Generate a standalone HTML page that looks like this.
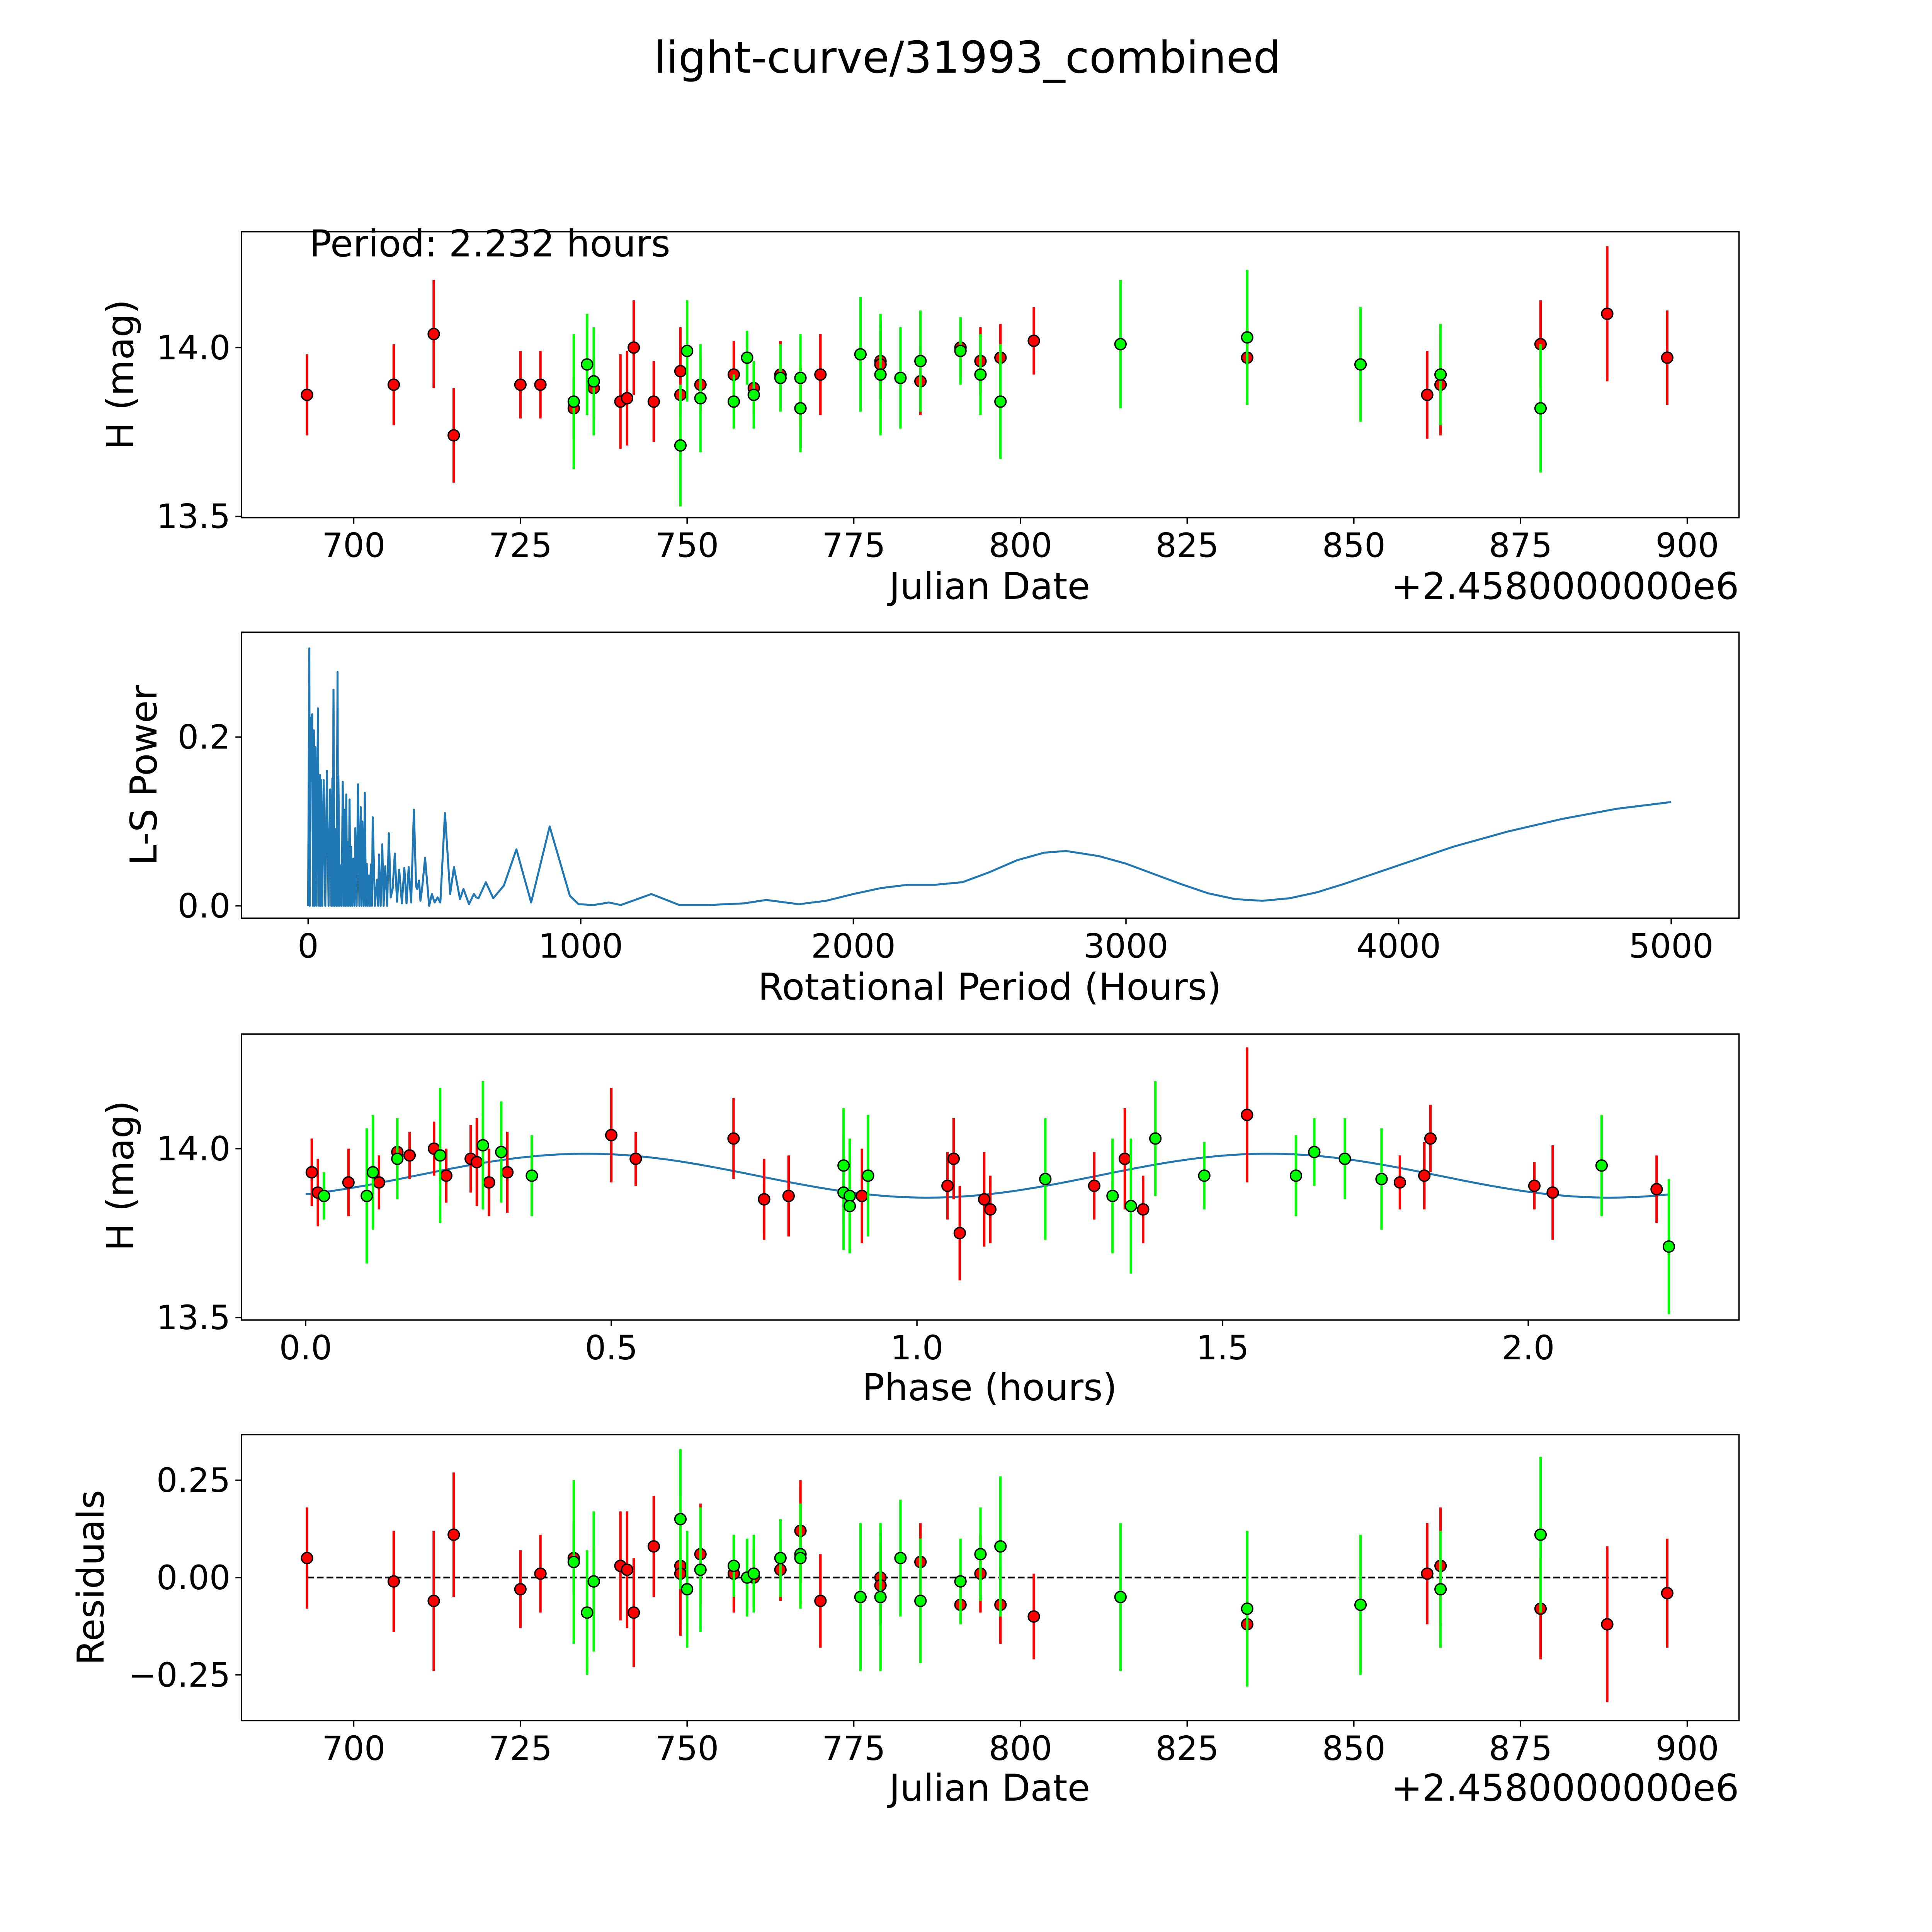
<!DOCTYPE html>
<html><head><meta charset="utf-8"><style>
html,body{margin:0;padding:0;background:#fff;overflow:hidden;width:5400px;height:5400px;}
svg{display:block;font-family:"DejaVu Sans","Liberation Sans",sans-serif;}
</style></head><body>
<svg id="fig" xmlns="http://www.w3.org/2000/svg" width="5400" height="5400" viewBox="0 0 1693 1693">
<rect width="1693" height="1693" fill="#fff"/>
<text x="785" y="59" font-size="35.5" text-anchor="middle">light-curve/31993_combined</text>
</svg>
<script>
// ===== Panel 1 / 4 data: Julian date (offset from 2458000) =====
const redJD   = [693,706,712,715,725,728,733,736,740,741,742,745,749,749,752,757,760,764,767,770,779,779,785,791,794,797,802,834,861,863,878,888,897];
const redMag  = [13.86,13.89,14.04,13.74,13.89,13.89,13.82,13.88,13.84,13.85,14.0,13.84,13.86,13.93,13.89,13.92,13.88,13.92,13.82,13.92,13.96,13.95,13.9,14.0,13.96,13.97,14.02,13.97,13.86,13.89,14.01,14.1,13.97];
const redErr  = [0.12,0.12,0.16,0.14,0.1,0.1,0.09,0.09,0.14,0.14,0.14,0.12,0.14,0.13,0.08,0.1,0.08,0.1,0.12,0.12,0.12,0.1,0.1,0.09,0.1,0.1,0.1,0.1,0.13,0.15,0.13,0.2,0.14];
const redRes  = [0.05,-0.01,-0.06,0.11,-0.03,0.01,0.05,-0.01,0.03,0.02,-0.09,0.08,0.03,0.01,0.06,0.01,0.0,0.02,0.12,-0.06,0.0,-0.02,0.04,-0.07,0.01,-0.07,-0.1,-0.12,0.01,0.03,-0.08,-0.12,-0.04];
const redResErr = [0.13,0.13,0.18,0.16,0.1,0.1,0.09,0.09,0.14,0.15,0.14,0.13,0.18,0.13,0.13,0.1,0.08,0.08,0.13,0.12,0.12,0.1,0.1,0.05,0.1,0.1,0.11,0.1,0.13,0.15,0.13,0.2,0.14];
const grnJD   = [733,735,736,749,750,752,757,759,760,764,767,767,776,779,782,785,791,794,797,815,834,851,863,878];
const grnMag  = [13.84,13.95,13.90,13.71,13.99,13.85,13.84,13.97,13.86,13.91,13.82,13.91,13.98,13.92,13.91,13.96,13.99,13.92,13.84,14.01,14.03,13.95,13.92,13.82];
const grnErr  = [0.2,0.15,0.16,0.18,0.15,0.16,0.08,0.08,0.1,0.1,0.13,0.13,0.17,0.18,0.15,0.15,0.1,0.12,0.17,0.19,0.2,0.17,0.15,0.19];
const grnRes  = [0.04,-0.09,-0.01,0.15,-0.03,0.02,0.03,0.0,0.01,0.05,0.06,0.05,-0.05,-0.05,0.05,-0.06,-0.01,0.06,0.08,-0.05,-0.08,-0.07,-0.03,0.11];
const grnResErr = [0.21,0.16,0.18,0.18,0.15,0.16,0.08,0.1,0.1,0.1,0.13,0.13,0.19,0.19,0.15,0.16,0.11,0.12,0.18,0.19,0.2,0.18,0.15,0.2];
// ===== Panel 3 data: phase =====
const redPhase = [0.01,0.02,0.07,0.12,0.15,0.17,0.21,0.23,0.27,0.28,0.30,0.33,0.50,0.54,0.70,0.75,0.79,0.91,1.05,1.06,1.07,1.11,1.12,1.29,1.34,1.37,1.54,1.79,1.83,1.84,2.01,2.04,2.21];
const redPMag  = [13.93,13.87,13.9,13.9,13.99,13.98,14.0,13.92,13.97,13.96,13.9,13.93,14.04,13.97,14.03,13.85,13.86,13.86,13.89,13.97,13.75,13.85,13.82,13.89,13.97,13.82,14.1,13.9,13.92,14.03,13.89,13.87,13.88];
const redPErr  = [0.1,0.1,0.1,0.08,0.1,0.07,0.08,0.08,0.1,0.13,0.1,0.12,0.14,0.08,0.12,0.12,0.12,0.14,0.1,0.12,0.14,0.14,0.1,0.1,0.15,0.1,0.2,0.08,0.1,0.1,0.07,0.14,0.1];
const grnPhase = [0.03,0.10,0.11,0.15,0.22,0.29,0.32,0.37,0.88,0.88,0.89,0.89,0.92,1.21,1.32,1.35,1.39,1.47,1.62,1.65,1.70,1.76,2.12,2.23];
const grnPMag  = [13.86,13.86,13.93,13.97,13.98,14.01,13.99,13.92,13.87,13.95,13.86,13.83,13.92,13.91,13.86,13.83,14.03,13.92,13.92,13.99,13.97,13.91,13.95,13.71];
const grnPErr  = [0.07,0.2,0.17,0.12,0.2,0.19,0.15,0.12,0.17,0.17,0.17,0.13,0.18,0.18,0.17,0.2,0.17,0.1,0.12,0.1,0.12,0.15,0.15,0.2];
const fitMean = [13.92];
const fitAmp = [0.065];
const fitPeriod = [1.116];
const fitShift = [0.18];
const fitRange = [0, 2.232];
// ===== Panel 2 data: periodogram =====
const lsPeriod = [0,4.5,6,10,15,18,21,24,27,31,36,40,44,46,48,52,57,63,69,75,81,85,89,91,93,97,100,104,108,110,111,116,120,123,127,131,134,137,140,143,146,149,152,155,158,162,166,170,173,178,183,188,193,196,199,204,208,212,215,219,223,227,230,234,237,245,253,257,260,266,272,277,283,290,296,303,310,318,326,334,344,353,361,369,378,388,396,400,407,412,418,429,444,454,464,475,485,502,521,535,557,570,590,608,617,625,652,679,718,764,818,886,960,992,1047,1103,1147,1259,1362,1469,1600,1680,1800,1900,2000,2100,2200,2300,2400,2500,2600,2700,2780,2900,3000,3100,3200,3300,3400,3500,3600,3700,3800,3900,4000,4200,4400,4600,4800,5000];
const lsPower  = [0,0.305,0,0.22,0.227,0,0.208,0,0.188,0,0.234,0,0.155,0,0.149,0,0.149,0,0.16,0,0.138,0,0.151,0,0.256,0,0.091,0,0.277,0,0.154,0,0.048,0,0.147,0,0.114,0,0.132,0,0.076,0,0.126,0,0.07,0,0.056,0,0.092,0,0.144,0,0.117,0,0.1,0,0.134,0,0.05,0,0.036,0,0.049,0,0.105,0,0.031,0,0.061,0,0.073,0,0.047,0,0.086,0.01,0.02,0.062,0.005,0.043,0.003,0.045,0.003,0.046,0.004,0.114,0.023,0.02,0.03,0.006,0.02,0.057,0,0.014,0.004,0.01,0.004,0.11,0.014,0.046,0.008,0.02,0.002,0.014,0.01,0.009,0.028,0.009,0.024,0.067,0.004,0.094,0.012,0.002,0.001,0.004,0.001,0.014,0.001,0.001,0.003,0.007,0.002,0.006,0.014,0.021,0.025,0.025,0.028,0.04,0.054,0.063,0.065,0.059,0.05,0.038,0.026,0.015,0.008,0.006,0.009,0.016,0.026,0.037,0.048,0.07,0.088,0.103,0.115,0.123];
const jdTicks = [700,725,750,775,800,825,850,875,900];
const magTicks = [13.5,14.0];
const lsXTicks = [0,1000,2000,3000,4000,5000];
const lsYTicks = [0.0,0.2];
const phaseTicks = [0.0,0.5,1.0,1.5,2.0];
const resTicks = [-0.25,0.00,0.25];

const NS = 'http://www.w3.org/2000/svg';
const svg = document.getElementById('fig');
function mk(tag, attrs, parent){ const e=document.createElementNS(NS,tag); for(const k in attrs) e.setAttribute(k,attrs[k]); (parent||svg).appendChild(e); return e; }
function lin(d0,d1,r0,r1){ return v => r0+(v-d0)*(r1-r0)/(d1-d0); }

const L=196, R=1411;
const TF=27;
const jdX = lin(700,900,287,1369);
function axesBox(name){
  const g = mk('g',{});  
  return g;
}
function frame(g,top,bot){
  const r = mk('rect',{x:L,y:top,width:R-L,height:bot-top,fill:'none',stroke:'#000','stroke-width':1.1},g);
   
}
function xTicks(g,ticks,sx,bot,fmt){
  ticks.forEach(t=>{ const x=sx(t);
    mk('line',{x1:x,x2:x,y1:bot,y2:bot+5,stroke:'#000','stroke-width':1.1},g);
    const tx=mk('text',{x:x,y:bot+32,'font-size':TF,'text-anchor':'middle'},g); tx.textContent=fmt(t);
     
  });
}
function yTicks(g,ticks,sy,fmt){
  ticks.forEach(t=>{ const y=sy(t);
    mk('line',{x1:L-5,x2:L,y1:y,y2:y,stroke:'#000','stroke-width':1.1},g);
    const tx=mk('text',{x:L-9,y:y+9.5,'font-size':TF,'text-anchor':'end'},g); tx.textContent=fmt(t);
     
  });
}
function label(g,txt,x,y,rot,name,anchor,fs){
  const t=mk('text',{x:x,y:y,'font-size':fs||30,'text-anchor':anchor||'middle'},g);
  if(rot) t.setAttribute('transform','rotate(-90 '+x+' '+y+')');
  t.textContent=txt;  
}
function points(g,xs,ys,es,sx,sy,color,name){
  xs.forEach((x,i)=>{
    const px=sx(x);
    const l=mk('line',{x1:px,x2:px,y1:sy(ys[i]-es[i]),y2:sy(ys[i]+es[i]),stroke:color,'stroke-width':2},g);
     
  });
  xs.forEach((x,i)=>{
    const c=mk('circle',{cx:sx(x),cy:sy(ys[i]),r:4.5,fill:color,stroke:'#000','stroke-width':1.1},g);
     
  });
}
const RED='#ff0000', GRN='#00ff00';

// ---- Panel 1
{ const top=188,bot=420; const g=axesBox('light-curve-panel');
  const sy=lin(13.5,14.0,419,282);
  points(g,redJD,redMag,redErr,jdX,sy,RED,'red-band');
  points(g,grnJD,grnMag,grnErr,jdX,sy,GRN,'green-band');
  frame(g,top,bot);
  xTicks(g,jdTicks,jdX,bot,t=>String(t)); yTicks(g,magTicks,sy,t=>t.toFixed(1));
  label(g,'Julian Date',803,486,false,'x-axis-title');
  label(g,'+2.4580000000e6',1411,486,false,'x-offset-text','end');
  label(g,'H (mag)',108,304,true,'y-axis-title');
  label(g,'Period: 2.232 hours',251,208,false,'period-annotation','start');
}
// ---- Panel 2
{ const top=513,bot=745; const g=axesBox('periodogram-panel');
  const sx=lin(0,5000,250,1356), sy=lin(0,0.2,735,598);
  const pts=lsPeriod.map((p,i)=>sx(p).toFixed(2)+','+sy(lsPower[i]).toFixed(2)).join(' ');
  const pl=mk('polyline',{points:pts,fill:'none',stroke:'#1f77b4','stroke-width':1.6,'stroke-linejoin':'round'},g);
   
  frame(g,top,bot);
  xTicks(g,lsXTicks,sx,bot,t=>String(t)); yTicks(g,lsYTicks,sy,t=>t.toFixed(1));
  label(g,'Rotational Period (Hours)',803,811,false,'x-axis-title');
  label(g,'L-S Power',127,629,true,'y-axis-title');
}
// ---- Panel 3
{ const top=839,bot=1071; const g=axesBox('phase-panel');
  const sx=lin(0,2,248,1240), sy=lin(13.5,14.0,1069,932);
  let d=''; const n=300;
  for(let i=0;i<=n;i++){ const x=fitRange[0]+(fitRange[1]-fitRange[0])*i/n;
    const y=fitMean[0]+fitAmp[0]*Math.sin(2*Math.PI*(x-fitShift[0])/fitPeriod[0]);
    d+=(i?'L':'M')+sx(x).toFixed(2)+','+sy(y).toFixed(2); }
  const fp=mk('path',{d:d,fill:'none',stroke:'#1f77b4','stroke-width':1.6},g);
   
  points(g,redPhase,redPMag,redPErr,sx,sy,RED,'red-band');
  points(g,grnPhase,grnPMag,grnPErr,sx,sy,GRN,'green-band');
  frame(g,top,bot);
  xTicks(g,phaseTicks,sx,bot,t=>t.toFixed(1)); yTicks(g,magTicks,sy,t=>t.toFixed(1));
  label(g,'Phase (hours)',803,1136,false,'x-axis-title');
  label(g,'H (mag)',108,954,true,'y-axis-title');
}
// ---- Panel 4
{ const top=1164,bot=1396; const g=axesBox('residuals-panel');
  const sy=lin(0,0.25,1280,1201);
  const zl=mk('line',{x1:jdX(693),x2:jdX(897),y1:sy(0),y2:sy(0),stroke:'#000','stroke-width':1.4,'stroke-dasharray':'5.5,2.4'},g);
   
  points(g,redJD,redRes,redResErr,jdX,sy,RED,'red-residual');
  points(g,grnJD,grnRes,grnResErr,jdX,sy,GRN,'green-residual');
  frame(g,top,bot);
  xTicks(g,jdTicks,jdX,bot,t=>String(t)); yTicks(g,resTicks,sy,t=>(t<0?'\u2212':'')+Math.abs(t).toFixed(2));
  label(g,'Julian Date',803,1461,false,'x-axis-title');
  label(g,'Residuals',84,1280,true,'y-axis-title');
  label(g,'+2.4580000000e6',1411,1461,false,'x-offset-text','end');
}
</script>
</body></html>
